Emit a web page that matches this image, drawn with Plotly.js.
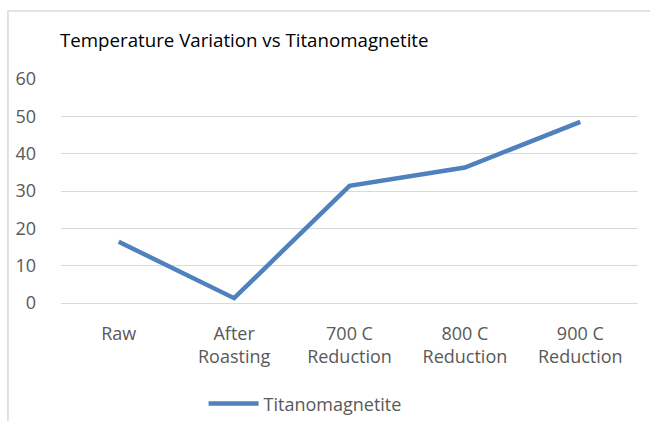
<!DOCTYPE html>
<html>
<head>
<meta charset="utf-8">
<script src="https://cdn.plot.ly/plotly-3.0.1.min.js"></script>
<style>html,body{margin:0;padding:0;background:#fff;}#chart{width:650px;height:421px;}</style>
</head>
<body>
<div id="chart"></div>
<script>
const categories = ["Raw", "After<br>Roasting", "700 C<br>Reduction", "800 C<br>Reduction", "900 C<br>Reduction"];
const seriesName = "Titanomagnetite";
const values = [16.4, 1.3, 31.4, 36.3, 48.5];
const yTicks = [0, 10, 20, 30, 40, 50, 60];

const font = "Open Sans, Liberation Sans, sans-serif";
const trace = {
  x: categories,
  y: values,
  type: "scatter",
  mode: "lines",
  name: seriesName,
  line: {color: "#4f81bd", width: 4.5}
};
const layout = {
  width: 650, height: 421,
  margin: {l: 61, r: 12, t: 79, b: 118, autoexpand: false},
  paper_bgcolor: "#fff", plot_bgcolor: "#fff",
  title: {text: "Temperature Variation vs Titanomagnetite", x: 60/650, xanchor: "left", y: 1 - 40/421, yanchor: "middle",
          font: {family: font, size: 18.7, color: "#000"}},
  xaxis: {type: "category", range: [-0.5, 4.5], showgrid: false, zeroline: false, showline: false, automargin: false,
          ticks: "", ticklabelstandoff: 18, tickfont: {family: font, size: 18, color: "#595959"}, fixedrange: true},
  yaxis: {range: [0, 60], tickvals: yTicks, showgrid: true, gridcolor: "#d9d9d9", gridwidth: 1, automargin: false,
          zeroline: true, zerolinecolor: "#d9d9d9", zerolinewidth: 1, showline: false, ticks: "",
          ticklabelstandoff: 24, tickfont: {family: font, size: 18, color: "#595959"}},
  showlegend: true,
  legend: {x: 0.423, xanchor: "center", y: -0.45, yanchor: "middle", orientation: "h",
           font: {family: font, size: 18, color: "#595959"}, itemwidth: 50},
  shapes: [{type: "path", xref: "paper", yref: "paper",
            path: "M -0.092 -0.6 L -0.092 1.3036 L 1.03 1.3036",
            line: {color: "#d9d9d9", width: 1.5}}]
};
Plotly.newPlot("chart", [trace], layout, {displayModeBar: false, staticPlot: true});
</script>
</body>
</html>
